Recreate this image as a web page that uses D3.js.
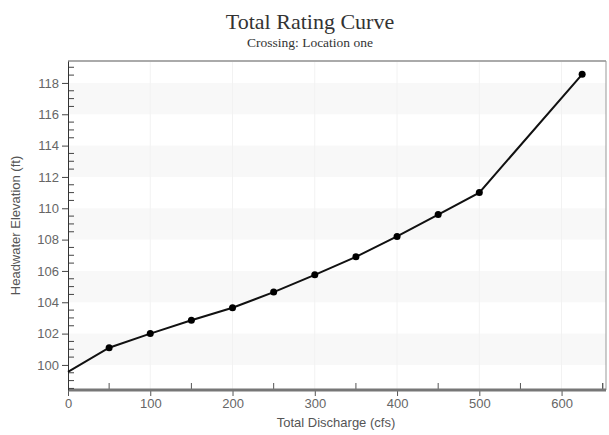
<!DOCTYPE html>
<html><head><meta charset="utf-8">
<script src="https://cdn.jsdelivr.net/npm/d3@7"></script>
<style>body{margin:0;background:#fff;} svg{display:block;}</style>
</head><body>
<svg id="c" width="609" height="435"></svg>
<script>
const discharge = [0, 50, 100, 150, 200, 250, 300, 350, 400, 450, 500, 625];
const elevation = [99.55, 101.1, 102.0, 102.85, 103.65, 104.65, 105.75, 106.9, 108.2, 109.6, 111.0, 118.55];
const xTicks = [0, 100, 200, 300, 400, 500, 600];
const yTicks = [100, 102, 104, 106, 108, 110, 112, 114, 116, 118];
const title = "Total Rating Curve";
const subtitle = "Crossing: Location one";
const xLabel = "Total Discharge (cfs)";
const yLabel = "Headwater Elevation (ft)";

const svg = d3.select("#c");
const L = 68, R = 606, T = 61, B = 390;
const x = d3.scaleLinear().domain([0, 654]).range([L, R]);
const y = d3.scaleLinear().domain([98.4, 119.4]).range([B, T]);

// background bands
const bands = [];
for (let v = 100; v < 119; v += 4) bands.push(v);
svg.append("g").selectAll("rect").data(bands).join("rect")
  .attr("x", L).attr("width", R - L)
  .attr("y", d => y(d + 2)).attr("height", d => y(d) - y(d + 2))
  .attr("fill", "#f8f8f8");
// faint vertical grid
svg.append("g").selectAll("line").data(xTicks.slice(1)).join("line")
  .attr("x1", d => x(d)).attr("x2", d => x(d)).attr("y1", T).attr("y2", B)
  .attr("stroke", "#f2f2f2").attr("stroke-width", 1);

// frame
svg.append("line").attr("x1", L).attr("x2", R).attr("y1", T).attr("y2", T)
  .attr("stroke", "#aaa").attr("stroke-width", 2);
svg.append("line").attr("x1", R).attr("x2", R).attr("y1", T).attr("y2", B)
  .attr("stroke", "#999").attr("stroke-width", 1);

// x axis
const xMinor = d3.range(50, 654, 100);
svg.append("g").selectAll("line").data(xMinor.concat([650])).join("line")
  .attr("x1", d => x(d)).attr("x2", d => x(d)).attr("y1", B).attr("y2", B - 7)
  .attr("stroke", "#555");
const xAxis = d3.axisBottom(x).tickValues(xTicks).tickSize(6).tickSizeOuter(0).tickPadding(3);
const gx = svg.append("g").attr("transform", `translate(0,${B})`).call(xAxis);
gx.select(".domain").remove();
gx.selectAll(".tick line").attr("stroke", "#555");
gx.selectAll("text").attr("font-family", "Liberation Sans, Arial, sans-serif").attr("font-size", 13).attr("fill", "#666");
svg.append("line").attr("x1", L).attr("x2", R).attr("y1", B).attr("y2", B)
  .attr("stroke", "#777").attr("stroke-width", 3);

// y axis
const yMinor = d3.range(98.5, 119.4, 0.5).filter(v => Math.abs(v % 2) > 0.01);
svg.append("g").selectAll("line").data(yMinor).join("line")
  .attr("x1", L).attr("x2", L + 6).attr("y1", d => y(d)).attr("y2", d => y(d))
  .attr("stroke", "#444");
const yAxis = d3.axisLeft(y).tickValues(yTicks).tickSize(6).tickSizeOuter(0).tickPadding(3);
const gy = svg.append("g").attr("transform", `translate(${L},0)`).call(yAxis);
gy.select(".domain").attr("stroke", "#333");
gy.selectAll(".tick line").attr("stroke", "#444");
gy.selectAll("text").attr("font-family", "Liberation Sans, Arial, sans-serif").attr("font-size", 13).attr("fill", "#666");

// line + points
const data = discharge.map((d, i) => ({x: d, y: elevation[i]}));
svg.append("path").datum(data)
  .attr("d", d3.line().x(d => x(d.x)).y(d => y(d.y)))
  .attr("fill", "none").attr("stroke", "#111").attr("stroke-width", 2);
svg.append("g").selectAll("circle").data(data.slice(1)).join("circle")
  .attr("cx", d => x(d.x)).attr("cy", d => y(d.y)).attr("r", 3.5).attr("fill", "#000");

// titles
svg.append("text").attr("x", 310).attr("y", 29).attr("text-anchor", "middle")
  .attr("font-family", "Liberation Serif, Times New Roman, serif").attr("font-size", 22).attr("fill", "#333").text(title);
svg.append("text").attr("x", 310).attr("y", 47).attr("text-anchor", "middle")
  .attr("font-family", "Liberation Serif, Times New Roman, serif").attr("font-size", 13.5).attr("fill", "#333").text(subtitle);
svg.append("text").attr("x", 336).attr("y", 427).attr("text-anchor", "middle")
  .attr("font-family", "Liberation Sans, Arial, sans-serif").attr("font-size", 13).attr("fill", "#555").text(xLabel);
svg.append("text").attr("transform", `translate(20,${(T + B) / 2}) rotate(-90)`).attr("text-anchor", "middle")
  .attr("font-family", "Liberation Sans, Arial, sans-serif").attr("font-size", 13).attr("fill", "#555").text(yLabel);
</script>
</body></html>
